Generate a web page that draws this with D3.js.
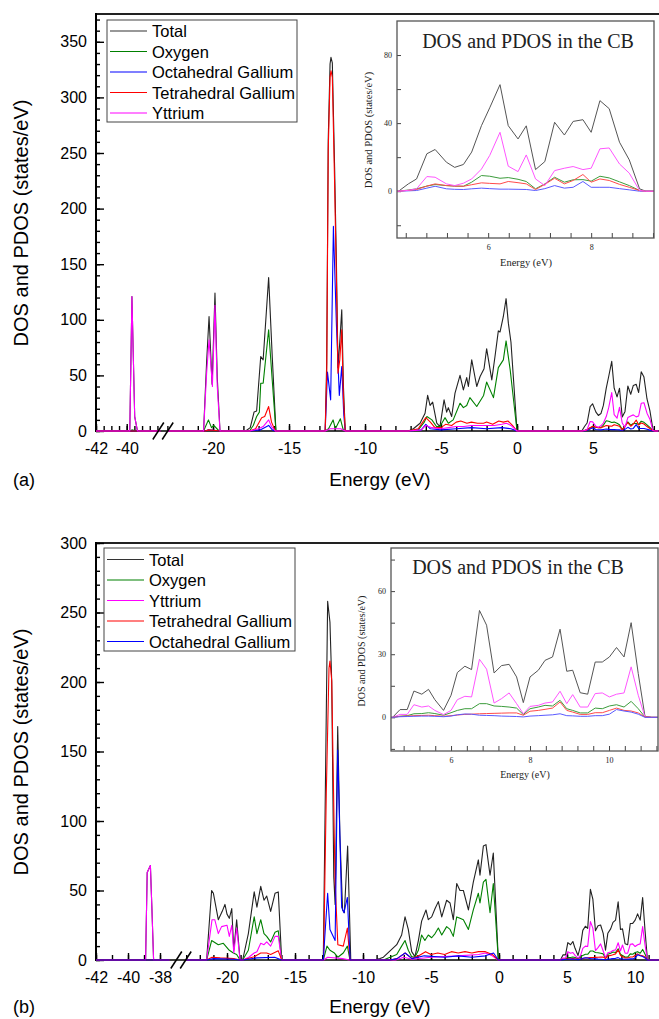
<!DOCTYPE html>
<html>
<head>
<meta charset="utf-8">
<script src="https://cdn.jsdelivr.net/npm/d3@7"></script>
<style>
  body { margin: 0; background: #fff; }
  svg { display: block; }
  .main text { font-family: "Liberation Sans", Arial, sans-serif; fill: #000; }
  .inset text { font-family: "Liberation Serif", "Times New Roman", serif; fill: #222; }
</style>
</head>
<body>
<svg id="chart" width="659" height="1019"></svg>
<script>
// ---------- panel (a) : core + valence band, [energy, DOS] pairs ----------
var aTotal = [[-42,0],[-39.8,0],[-39.66,121],[-39.48,13],[-39.3,0],
  [-20.62,0],[-20.42,62],[-20.26,103],[-20.06,42],[-19.87,124],[-19.72,48],[-19.54,0],
  [-17.85,0],[-17.55,3],[-17.3,17],[-17.13,18],[-16.86,67],[-16.7,64],[-16.34,138],[-16.1,66],[-15.86,0],
  [-12.62,0],[-12.52,62],[-12.42,262],[-12.3,330],[-12.24,336],[-12.15,331],[-12.0,237],[-11.88,150],[-11.78,57],[-11.66,80],[-11.53,109],[-11.42,40],[-11.3,0],
  [-7.15,0],[-6.82,2],[-6.38,7],[-6.05,16],[-5.88,32],[-5.72,23],[-5.55,26],[-5.28,7],[-5.07,4],[-4.8,28],[-4.63,17],[-4.52,21],[-4.3,13],[-4.08,34],[-3.75,50],[-3.53,37],[-3.31,48],[-3.2,40],[-2.98,64],[-2.65,40],[-2.43,49],[-2.17,56],[-2.0,74],[-1.66,46],[-1.45,67],[-1.23,90],[-1.12,89],[-0.9,103],[-0.72,119],[-0.57,97],[-0.4,80],[0,0]];
var aOxygen = [[-42,0],[-39.8,0],[-39.66,1],[-39.4,0],
  [-20.62,0],[-20.3,10],[-20.1,3],[-19.95,5],[-19.6,0],
  [-17.6,0],[-17.35,5],[-17.13,13],[-16.95,17],[-16.86,43],[-16.7,43],[-16.34,91],[-16.1,45],[-15.86,0],
  [-12.62,0],[-12.4,2],[-12.1,10],[-11.95,2],[-11.62,11],[-11.45,2],[-11.3,0],
  [-7.15,0],[-6.5,1],[-6.1,8],[-5.93,13],[-5.6,10],[-5.3,4],[-5.07,4],[-4.74,12],[-4.52,7],[-4.2,10],[-3.75,25],[-3.53,21],[-3.31,23],[-3.1,30],[-2.65,22],[-2.2,32],[-2.0,44],[-1.55,30],[-1.23,57],[-0.9,64],[-0.72,81],[-0.45,55],[0,0]];
var aOcta = [[-42,0],[-20.5,0],[-20.3,1],[-19.8,0.5],[-19.6,0],
  [-17.6,0],[-16.9,1],[-16.34,5],[-16.1,1],[-15.9,0],
  [-12.62,0],[-12.47,53],[-12.26,28],[-12.08,184],[-11.88,95],[-11.69,32],[-11.53,58],[-11.4,15],[-11.3,0],
  [-7.15,0],[-6.3,1],[-6.0,6],[-5.7,2],[-5.0,1],[-4.0,2],[-3.0,3],[-2.0,2],[-1.0,3],[-0.4,2],[0,0]];
var aTetra = [[-42,0],[-20.5,0],[-20.3,1],[-19.8,0.5],[-19.6,0],
  [-17.6,0],[-17.2,2],[-16.8,12],[-16.6,13],[-16.34,22],[-16.15,8],[-15.9,0],
  [-12.62,0],[-12.52,50],[-12.42,252],[-12.3,318],[-12.24,324],[-12.15,318],[-12.0,222],[-11.88,135],[-11.78,52],[-11.66,64],[-11.53,91],[-11.42,30],[-11.3,0],
  [-7.15,0],[-6.5,2],[-6.0,12],[-5.7,8],[-5.4,3],[-5.0,3],[-4.7,6],[-4.3,5],[-4.0,8],[-3.7,9],[-3.3,7],[-3.0,8],[-2.6,7],[-2.2,7],[-2.0,8],[-1.6,6],[-1.2,9],[-0.9,8],[-0.6,9],[-0.3,5],[0,0]];
var aYttrium = [[-42,0],[-39.8,0],[-39.66,121],[-39.48,13],[-39.3,0],
  [-20.62,0],[-20.42,52],[-20.26,82],[-20.04,40],[-19.87,113],[-19.72,40],[-19.54,0],
  [-17.6,0],[-17.0,2],[-16.7,4],[-16.34,10],[-16.15,4],[-15.9,0],
  [-12.62,0],[-12.3,2],[-11.6,2],[-11.3,0],
  [-7.15,0],[-6.3,1],[-6.0,5],[-5.6,3],[-5.0,2],[-4.5,3],[-4.0,4],[-3.5,4],[-3.0,5],[-2.5,5],[-2.0,5],[-1.5,5],[-1.0,6],[-0.7,7],[-0.4,5],[0,0]];

// panel (a) : conduction band (also the inset)
var aCBEnergy = [4.26,4.45,4.61,4.81,4.97,5.19,5.35,5.52,5.68,5.87,6.03,6.23,6.39,6.58,6.74,6.92,7.1,7.29,7.48,7.65,7.84,8.0,8.17,8.35,8.55,8.74,8.94,9.06];
var aTotalCB   = [0,4.3,7.2,22,24.5,17,14,15.7,23,38.5,49,62.6,38.5,30.7,38.4,12.7,17.4,40.5,33,41,42,34.6,53.2,48.5,28.8,18.4,1.4,0];
var aOxygenCB  = [0,0.7,1.4,3,3.9,3.3,3,2.9,5.3,9.2,8.8,7.6,8,7,5.7,1.4,4.3,8.2,5.3,6.7,6.8,5.9,8.8,7.8,5.5,3.3,0.4,0];
var aOctaCB    = [0,0.2,0.4,1.8,2.9,1.4,1.1,1,1.4,1.8,1.5,1.2,1.2,1.1,1,0.4,1.5,3.3,1.8,2.3,5.7,2.3,2.3,2.3,1.5,0.8,0,0];
var aTetraCB   = [0,0.5,1,3,4.3,3.3,3,2.9,3.8,4.9,4.6,4.3,5.7,5,4.3,1,4,7.6,4.3,6.3,9.8,5.3,7.2,6.3,4,2.3,0.4,0];
var aYttriumCB = [0,0.5,1.4,8.6,8.2,4.3,3.3,4.7,7.2,13,21,34.6,14.7,11.5,21.3,7.2,3.3,12.1,13.5,14.5,12.7,13.5,24.9,25.4,16,10.6,0.4,0];

// ---------- panel (b) ----------
var bTotal = [[-42,0],[-38.9,0],[-38.8,63],[-38.6,68],[-38.5,35],[-38.4,0],
  [-21.5,0],[-21.13,50],[-21.0,48],[-20.64,29],[-20.35,35],[-20.15,40],[-20.0,33],[-19.83,30],[-19.65,37],[-19.5,7],[-19.29,29],[-19.04,0],
  [-18.85,0],[-18.43,19],[-18.0,49],[-17.8,38],[-17.52,53],[-17.28,43],[-17.08,46],[-16.79,35],[-16.47,48],[-16.23,49],[-15.98,0],
  [-12.92,0],[-12.6,258],[-12.43,243],[-12.3,200],[-12.15,60],[-12.05,40],[-11.86,168],[-11.7,90],[-11.5,36],[-11.37,34],[-11.13,82],[-10.9,0],
  [-9.2,0],[-8.75,1],[-8.5,2],[-7.52,11],[-7.16,18],[-6.91,31],[-6.67,22],[-6.42,6],[-6.18,2.4],[-5.93,14],[-5.69,28],[-5.37,36],[-5.2,29],[-4.95,31],[-4.7,37],[-4.46,42],[-4.21,31],[-3.85,43],[-3.6,41],[-3.36,29],[-3.11,55],[-2.87,50],[-2.62,50],[-2.25,36],[-1.89,56],[-1.52,72],[-1.4,61],[-1.15,82],[-0.96,83],[-0.66,61],[-0.42,77],[-0.05,0]];
var bOxygen = [[-42,0],[-21.5,0],[-21.13,14],[-20.64,11],[-20.27,12],[-19.83,7],[-19.53,5],[-19.29,4],[-19.04,0],
  [-18.85,0],[-18.43,7],[-18.0,31],[-17.8,19],[-17.52,29],[-17.28,19],[-17.08,17],[-16.79,13],[-16.47,20],[-16.23,21],[-15.98,0],
  [-12.92,0],[-12.65,10],[-12.43,7],[-12.1,5],[-11.85,2],[-11.45,5],[-11.15,10],[-10.96,0],
  [-8.5,0],[-7.52,4],[-7.16,10],[-6.91,14],[-6.67,7],[-6.42,2.4],[-6.18,2],[-5.93,7],[-5.69,18],[-5.45,14],[-5.2,18],[-4.95,16],[-4.7,19],[-4.46,23],[-4.21,18],[-3.85,24],[-3.6,22],[-3.36,17],[-3.11,31],[-2.87,30],[-2.62,29],[-2.25,22],[-1.89,36],[-1.52,48],[-1.4,41],[-1.15,56],[-0.96,58],[-0.66,34],[-0.42,55],[-0.05,0]];
var bYttrium = [[-42,0],[-38.9,0],[-38.8,63],[-38.6,68],[-38.5,35],[-38.4,0],
  [-21.5,0],[-21.1,29],[-20.9,29],[-20.64,19],[-20.4,24],[-20.0,25],[-19.83,17],[-19.65,25],[-19.5,5],[-19.29,23],[-19.04,0],
  [-18.85,0],[-18.4,2],[-18.0,5],[-17.8,6],[-17.52,12],[-17.28,11],[-17.08,13],[-16.79,10],[-16.47,17],[-16.23,17],[-15.98,0],
  [-12.9,0],[-12.6,2],[-11.5,1],[-11.0,0],
  [-7.6,0],[-7.0,2],[-6.4,0.5],[-5.0,2],[-3.0,3],[-1.5,4],[-1.0,5],[-0.5,3],[-0.05,0]];
var bTetra = [[-42,0],[-21.5,0],[-21.1,2],[-20.5,1.5],[-19.5,1],[-19.04,0],
  [-18.85,0],[-18.0,2.4],[-17.52,5],[-17.08,5],[-16.79,4],[-16.23,6.6],[-15.98,0],
  [-12.9,0],[-12.7,120],[-12.5,210],[-12.43,215],[-12.3,201],[-12.06,58],[-11.85,11],[-11.45,10],[-11.15,23],[-10.96,0],
  [-8.0,0],[-7.5,1],[-6.9,5],[-6.4,1],[-5.9,3],[-5.4,6],[-5.0,4],[-4.5,5],[-4.0,4],[-3.5,6],[-3.0,5],[-2.5,6],[-2.0,5],[-1.5,6],[-1.0,6],[-0.5,4],[-0.05,0]];
var bOcta = [[-42,0],[-21.5,0],[-21.0,1],[-19.5,0.5],[-19.04,0],
  [-18.85,0],[-17.8,1.5],[-16.5,2],[-15.98,0],
  [-12.92,0],[-12.6,48],[-12.43,22],[-12.05,14],[-11.86,151],[-11.57,38],[-11.4,34],[-11.15,45],[-10.95,0],
  [-8.0,0],[-7.5,1],[-6.9,5],[-6.4,1],[-5.5,3],[-4.0,2],[-3.0,3],[-2.0,2],[-1.0,3],[-0.4,5],[-0.05,0]];

var bCBEnergy = [4.52,4.71,4.89,5.06,5.26,5.43,5.59,5.81,6.0,6.16,6.35,6.52,6.72,6.9,7.09,7.28,7.47,7.66,7.83,8.0,8.21,8.38,8.57,8.76,8.93,9.08,9.27,9.46,9.65,9.83,10.01,10.19,10.38,10.56,10.74,10.91,11.08];
var bTotalCB   = [0,3.7,3.7,12.5,11,13.3,8.4,3.3,10.5,21.3,24.3,22.7,50.8,43.8,21.1,24.6,25.2,19.2,7,19.2,22.4,27.1,28.7,41.9,21.9,22.4,11.7,11,26.3,26.3,28.7,33.2,28.7,45,20.8,0.5,0];
var bOxygenCB  = [0,0.5,0.8,1.7,1.8,2.2,1.8,1,2.2,3.3,4.1,4.1,6.5,6.5,5.4,5.2,4.9,4.4,1.3,4.1,4.9,5.7,5.4,8.1,4.1,3.3,2.1,2.1,4.4,4.1,5.4,6,4.9,7.6,4.1,0.2,0];
var bYttriumCB = [0,1.4,1.4,6,4.9,5.4,3.3,1.3,3.3,8.4,10,9.7,27.6,22.9,6.8,8.9,11.6,6.5,1.7,5.2,5.7,6.8,7.3,12.4,6.5,10.8,4.9,4.9,11.3,11.6,9.7,11,11.6,24,10.5,0.2,0];
var bTetraCB   = [0,0.5,0.6,0.8,0.9,1,0.8,0.5,0.8,1.1,1.4,1.5,1.7,1.8,1.9,2,2.1,2.1,1,2.9,3.3,3.8,4.4,7.3,3.3,2.5,1.4,1.4,2.2,2.2,3.3,4.4,3.3,3,2.1,0.2,0];
var bOctaCB    = [0,0.3,0.4,0.5,0.6,0.6,0.5,0.3,0.6,1.2,1.6,1.5,1,0.9,0.8,0.6,0.5,0.4,0.2,0.6,0.8,1,1.2,1.7,0.8,0.7,0.5,0.5,0.8,0.8,1.5,3.7,3,2.5,1.5,0,0];

// legend order = drawing order
var aNames = ["Total", "Oxygen", "Octahedral Gallium", "Tetrahedral Gallium", "Yttrium"];
var bNames = ["Total", "Oxygen", "Yttrium", "Tetrahedral Gallium", "Octahedral Gallium"];

var colors = {
  "Total": "#222222", "Oxygen": "#008000", "Octahedral Gallium": "#0000ff",
  "Tetrahedral Gallium": "#ff0000", "Yttrium": "#ff00ff"
};
var insetColors = {
  "Total": "#555555", "Oxygen": "#3c9c3c", "Octahedral Gallium": "#5a5aff",
  "Tetrahedral Gallium": "#ff4a4a", "Yttrium": "#ff55ff"
};

var svg = d3.select("#chart");
var defs = svg.append("defs");

function range(a, b, step) {
  // tick positions only
  return d3.range(Math.round(a / step), Math.round(b / step) + 1).map(function(i) { return +(i * step).toFixed(2); });
}

function drawMain(p) {
  var g = svg.append("g").attr("class", "main");
  var y = d3.scaleLinear().domain(p.yDomain).range([p.y0, p.yTop]);
  var xs = p.segs.map(function(s) { return d3.scaleLinear().domain(s.domain).range(s.range); });

  xs.forEach(function(x, i) {
    defs.append("clipPath").attr("id", p.id + "c" + i).append("rect")
      .attr("x", x.range()[0]).attr("y", p.yTop)
      .attr("width", x.range()[1] - x.range()[0]).attr("height", p.y0 - p.yTop + 2);
  });

  // frame lines
  g.append("line").attr("x1", p.xLeft).attr("x2", 659).attr("y1", p.yTop).attr("y2", p.yTop)
    .attr("stroke", "#222").attr("stroke-width", 2);
  g.append("line").attr("x1", p.xLeft).attr("x2", p.xLeft).attr("y1", p.yTop - 1).attr("y2", p.y0 + 1)
    .attr("stroke", "#000").attr("stroke-width", 2);
  g.append("line").attr("x1", p.xLeft).attr("x2", 659).attr("y1", p.y0).attr("y2", p.y0)
    .attr("stroke", "#000").attr("stroke-width", 1.5);

  // x ticks
  xs.forEach(function(x, i) {
    var s = p.segs[i];
    var minor = g.append("g").attr("transform", "translate(0," + p.y0 + ")")
      .call(d3.axisBottom(x).tickValues(s.minor).tickSizeInner(-5).tickSizeOuter(0).tickFormat(""));
    minor.select(".domain").remove();
    var major = g.append("g").attr("transform", "translate(0," + p.y0 + ")")
      .call(d3.axisBottom(x).tickValues(s.major).tickSizeInner(-7).tickSizeOuter(0)
        .tickPadding(11.5).tickFormat(function(d) { return String(d); }));
    major.select(".domain").remove();
    major.attr("font-size", 16);
    g.selectAll(".tick line").attr("stroke-width", 1.4);
  });

  // y ticks
  var ym = g.append("g").attr("transform", "translate(" + p.xLeft + ",0)")
    .call(d3.axisLeft(y).tickValues(p.yMinor).tickSizeInner(-4).tickSizeOuter(0).tickFormat(""));
  ym.select(".domain").remove();
  var yM = g.append("g").attr("transform", "translate(" + p.xLeft + ",0)")
    .call(d3.axisLeft(y).tickValues(p.yMajor).tickSizeInner(-8).tickSizeOuter(0).tickPadding(9));
  yM.select(".domain").remove();
  yM.attr("font-size", 16);
  g.selectAll(".tick line").attr("stroke-width", 1.4);

  // data lines, once per axis segment
  p.names.forEach(function(n) {
    var s = p.series[n];
    var pts = s.core.concat(p.cbE.map(function(e, i) { return [e, s.cb[i]]; })).concat([[p.xEnd, 0]]);
    xs.forEach(function(x, i) {
      g.append("path").datum(pts)
        .attr("clip-path", "url(#" + p.id + "c" + i + ")")
        .attr("fill", "none")
        .attr("stroke", colors[n])
        .attr("stroke-width", 1.1)
        .attr("stroke-linejoin", "round")
        .attr("d", d3.line().x(function(d) { return x(d[0]); }).y(function(d) { return y(d[1]); }));
    });
  });

  // axis break marks
  [-4.7, 4.7].forEach(function(dx) {
    g.append("line")
      .attr("x1", p.breakX + dx - 5.5).attr("y1", p.y0 + 8.5)
      .attr("x2", p.breakX + dx + 5.5).attr("y2", p.y0 - 8.5)
      .attr("stroke", "#000").attr("stroke-width", 1.5);
  });

  // legend
  var L = p.legend;
  g.append("rect").attr("x", L.x).attr("y", L.y).attr("width", L.w).attr("height", L.h)
    .attr("fill", "#fff").attr("stroke", "#444").attr("stroke-width", 1);
  p.names.forEach(function(n, i) {
    var cy = L.row0 + i * L.step;
    g.append("line").attr("x1", L.x + 3).attr("x2", L.x + 40).attr("y1", cy).attr("y2", cy)
      .attr("stroke", colors[n] === "#222222" ? "#333" : colors[n]).attr("stroke-width", 1.1);
    g.append("text").attr("x", L.x + 45).attr("y", cy + 6).attr("font-size", 16.5).text(n);
  });

  // titles
  g.append("text")
    .attr("transform", "translate(28," + p.yLabelY + ") rotate(-90)")
    .attr("text-anchor", "middle").attr("font-size", 20)
    .text("DOS and PDOS (states/eV)");
  g.append("text").attr("x", 380).attr("y", p.xLabelY)
    .attr("text-anchor", "middle").attr("font-size", 19).text("Energy (eV)");
  g.append("text").attr("x", 13).attr("y", p.xLabelY)
    .attr("font-size", 18).text(p.letter);
}

function drawInset(q) {
  var g = svg.append("g").attr("class", "inset");
  var x = d3.scaleLinear().domain(q.xDomain).range([q.x, q.x + q.w]);
  var y = d3.scaleLinear().domain(q.yDomain).range([q.y + q.h, q.y]);

  g.append("rect").attr("x", q.x).attr("y", q.y).attr("width", q.w).attr("height", q.h)
    .attr("fill", "#fff");
  defs.append("clipPath").attr("id", q.id + "clip").append("rect")
    .attr("x", q.x).attr("y", q.y).attr("width", q.w).attr("height", q.h);

  var ax = g.append("g").attr("transform", "translate(0," + (q.y + q.h) + ")")
    .call(d3.axisBottom(x).tickValues(q.xTicks).tickSizeInner(-5).tickSizeOuter(0).tickPadding(6)
      .tickFormat(function(d) { return q.xLabels.indexOf(d) >= 0 ? String(d) : ""; }));
  ax.select(".domain").remove();
  ax.attr("font-size", 8);
  var ay = g.append("g").attr("transform", "translate(" + q.x + ",0)")
    .call(d3.axisLeft(y).tickValues(q.yTicks).tickSizeInner(-4).tickSizeOuter(0).tickPadding(5)
      .tickFormat(function(d) { return q.yLabels.indexOf(d) >= 0 ? String(d) : ""; }));
  ay.select(".domain").remove();
  ay.attr("font-size", 8);
  g.selectAll(".tick line").attr("stroke", "#444").attr("stroke-width", 1);

  q.names.forEach(function(n) {
    var s = q.series[n];
    var pts = [[q.xDomain[0] - 1, 0]].concat(q.cbE.map(function(e, i) { return [e, s[i]]; }))
      .concat([[q.xDomain[1] + 1, 0]]);
    g.append("path").datum(pts)
      .attr("clip-path", "url(#" + q.id + "clip)")
      .attr("fill", "none").attr("stroke", insetColors[n]).attr("stroke-width", 1)
      .attr("d", d3.line().x(function(d) { return x(d[0]); }).y(function(d) { return y(d[1]); }));
  });

  g.append("rect").attr("x", q.x).attr("y", q.y).attr("width", q.w).attr("height", q.h)
    .attr("fill", "none").attr("stroke", "#555").attr("stroke-width", 1.3);

  g.append("text").attr("x", q.titleX).attr("y", q.titleY).attr("text-anchor", "middle")
    .attr("font-size", 20).attr("fill", "#000").text("DOS and PDOS in the CB");
  g.append("text")
    .attr("transform", "translate(" + q.yLabelX + "," + q.yLabelY + ") rotate(-90)")
    .attr("text-anchor", "middle").attr("font-size", q.labelSize)
    .text("DOS and PDOS (states/eV)");
  g.append("text").attr("x", q.xLabelX).attr("y", q.xLabelY).attr("text-anchor", "middle")
    .attr("font-size", q.labelSize).text("Energy (eV)");
}

// ---------- panel (a) ----------
drawMain({
  id: "a", letter: "(a)",
  yDomain: [0, 375], y0: 431, yTop: 14, xLeft: 96, xEnd: 12,
  yMajor: d3.range(0, 351, 50), yMinor: d3.range(0, 371, 10),
  segs: [
    { domain: [-42, -37.8], range: [96, 160.5], major: [-42, -40], minor: range(-42, -38, 0.5) },
    { domain: [-23, 9.3], range: [167.4, 658.4], major: [-20, -15, -10, -5, 0, 5], minor: range(-23, 9, 1) }
  ],
  breakX: 163,
  names: aNames,
  series: {
    "Total": { core: aTotal, cb: aTotalCB },
    "Oxygen": { core: aOxygen, cb: aOxygenCB },
    "Octahedral Gallium": { core: aOcta, cb: aOctaCB },
    "Tetrahedral Gallium": { core: aTetra, cb: aTetraCB },
    "Yttrium": { core: aYttrium, cb: aYttriumCB }
  },
  cbE: aCBEnergy,
  legend: { x: 107, y: 20, w: 190, h: 102, row0: 31, step: 20.5 },
  yLabelY: 223, xLabelY: 486
});

drawInset({
  id: "ia", x: 397, y: 21, w: 257, h: 217,
  xDomain: [4.23, 9.22], yDomain: [-27.5, 100],
  xTicks: range(4.4, 9.2, 0.4), xLabels: [6, 8],
  yTicks: [-20, 0, 20, 40, 60, 80], yLabels: [0, 40, 80],
  names: aNames,
  series: {
    "Total": aTotalCB, "Oxygen": aOxygenCB, "Octahedral Gallium": aOctaCB,
    "Tetrahedral Gallium": aTetraCB, "Yttrium": aYttriumCB
  },
  cbE: aCBEnergy,
  titleX: 528, titleY: 48, labelSize: 10.5,
  yLabelX: 372, yLabelY: 130, xLabelX: 526, xLabelY: 266
});

// ---------- panel (b) ----------
drawMain({
  id: "b", letter: "(b)",
  yDomain: [0, 300], y0: 960, yTop: 543, xLeft: 96, xEnd: 13,
  yMajor: d3.range(0, 301, 50), yMinor: d3.range(0, 301, 10),
  segs: [
    { domain: [-42, -37.4], range: [96, 169.6], major: [-42, -40, -38], minor: range(-42, -38, 1) },
    { domain: [-23, 11.8], range: [186.2, 659.5], major: [-20, -15, -10, -5, 0, 5, 10], minor: range(-23, 11, 1) }
  ],
  breakX: 181,
  names: bNames,
  series: {
    "Total": { core: bTotal, cb: bTotalCB },
    "Oxygen": { core: bOxygen, cb: bOxygenCB },
    "Yttrium": { core: bYttrium, cb: bYttriumCB },
    "Tetrahedral Gallium": { core: bTetra, cb: bTetraCB },
    "Octahedral Gallium": { core: bOcta, cb: bOctaCB }
  },
  cbE: bCBEnergy,
  legend: { x: 104, y: 548, w: 191, h: 103, row0: 559.5, step: 20.5 },
  yLabelY: 752, xLabelY: 1013
});

drawInset({
  id: "ib", x: 391, y: 548, w: 267, h: 203,
  xDomain: [4.48, 11.24], yDomain: [-16, 80.5],
  xTicks: range(4.8, 11.2, 0.4), xLabels: [6, 8, 10],
  yTicks: [-15, 0, 15, 30, 45, 60, 75], yLabels: [0, 30, 60],
  names: bNames,
  series: {
    "Total": bTotalCB, "Oxygen": bOxygenCB, "Yttrium": bYttriumCB,
    "Tetrahedral Gallium": bTetraCB, "Octahedral Gallium": bOctaCB
  },
  cbE: bCBEnergy,
  titleX: 518, titleY: 574, labelSize: 10,
  yLabelX: 365, yLabelY: 651, xLabelX: 525, xLabelY: 778
});
</script>
</body>
</html>
